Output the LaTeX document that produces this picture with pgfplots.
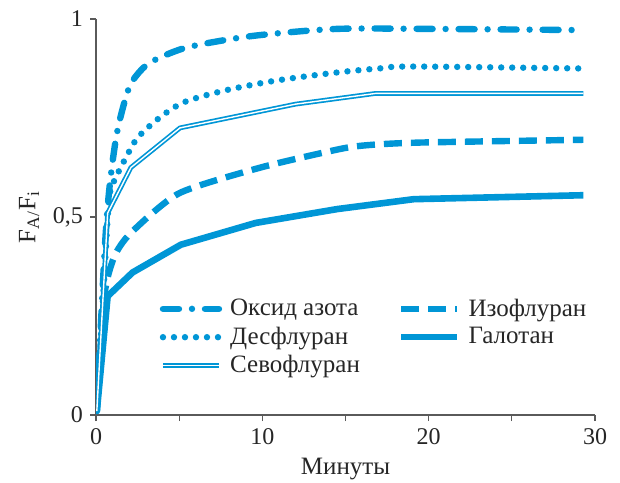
\documentclass[border=0pt]{standalone}
\usepackage{fontspec}
\setmainfont{Liberation Serif}
\usepackage{pgfplots}
\pgfplotsset{compat=1.18}
\usetikzlibrary{calc}
\definecolor{cblue}{RGB}{0,150,214}
\definecolor{axgray}{RGB}{90,90,90}
\begin{document}
\begin{tikzpicture}
\begin{axis}[
  scale only axis,
  width=249.5pt, height=198pt,
  xmin=0, xmax=30, ymin=0, ymax=1,
  axis lines*=left,
  axis line style={axgray, line width=0.6pt},
  xtick={0,10,20,30},
  minor xtick={5,15,25},
  ytick={0,0.5,1},
  tick align=outside,
  major tick length=3pt, minor tick length=3pt,
  tick style={axgray, line width=0.6pt},
  /pgf/number format/assume math mode=true,
  /pgf/number format/use comma,
  ticklabel style={font=\fontsize{12}{14}\selectfont, text=black!85},
  xticklabel style={yshift=0pt},
  xlabel={Минуты},
  ylabel={F\textsubscript{A/}F\textsubscript{i}},
  label style={font=\fontsize{12.5}{14}\selectfont, text=black!85},
  xlabel style={yshift=0pt},
  ylabel style={yshift=0pt},
  legend columns=2,
  legend cell align=left,
  legend style={at={(0.115,0.315)}, anchor=north west, draw=none, fill=none,
    font=\fontsize{12.5}{14}\selectfont, text=black!85,
    /tikz/every even column/.append style={column sep=17pt},
    row sep=0pt},
  legend image code/.code={\draw[#1] (0pt,0pt) -- (28pt,0pt);},
  every axis plot/.append style={cblue},
]
\coordinate (sw) at (rel axis cs:0,0);
\coordinate (ne) at (rel axis cs:1,1);
% Oksid azota
\addplot[line width=3.2pt, line cap=round, dash pattern=on 8pt off 6.5pt on 0pt off 6.5pt, smooth, tension=0.5] coordinates {
(0.05,0.01)(0.5,0.40)(0.8,0.57)(1.25,0.71)(1.85,0.81)(2.3,0.85)(3.25,0.89)(5.2,0.925)(7.5,0.945)(10,0.96)(14.5,0.975)(20,0.975)(29.3,0.972)};
\addlegendentry{\hspace{2pt}Оксид азота}
% Izofluran
\addplot[line width=3.2pt, dash pattern=on 9pt off 4.5pt, smooth, tension=0.4] coordinates {
(0.05,0.01)(0.5,0.30)(1.1,0.40)(2.1,0.46)(5.0,0.56)(9.9,0.625)(14.7,0.672)(16.5,0.682)(19.5,0.688)(29.3,0.695)};
\addlegendentry{\hspace{2pt}Изофлуран}
% Desfluran
\addplot[line width=3.2pt, line cap=round, dash pattern=on 0pt off 5.5pt, smooth, tension=0.5] coordinates {
(0.05,0.01)(0.5,0.35)(0.8,0.55)(1.2,0.60)(1.8,0.65)(2.5,0.70)(3.8,0.75)(5.3,0.79)(7.8,0.82)(10.9,0.845)(14.5,0.865)(17,0.875)(19,0.88)(29.3,0.875)};
\addlegendentry{\hspace{2pt}Десфлуран}
% Galotan
\addplot[line width=3.3pt, line join=round] coordinates {
(0.05,0.01)(0.7,0.30)(2.2,0.36)(5.1,0.43)(9.6,0.485)(14.5,0.52)(19.1,0.545)(29.3,0.555)};
\addlegendentry{\hspace{2pt}Галотан}
% Sevofluran
\addplot[line width=0.85pt, double=white, double distance=0.7pt] coordinates {
(0.05,0.01)(0.7,0.51)(2.1,0.625)(5.05,0.725)(12,0.785)(16.8,0.812)(29.3,0.812)};
\addlegendentry{\hspace{2pt}Севофлуран}
\end{axis}
\pgfresetboundingbox
\path ($(sw)+(-48pt,-33.5pt)$) rectangle ($(ne)+(12.5pt,9.5pt)$);
\end{tikzpicture}
\end{document}
